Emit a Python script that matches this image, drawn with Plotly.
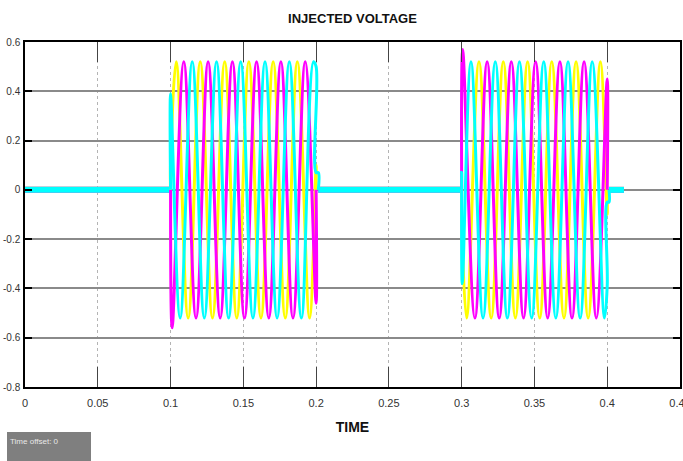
import plotly.graph_objects as go

# ---------------- data ----------------
# Zero level held between the injection windows (all three phases overlap here)
ZERO_T = [0.0, 0.1, None, 0.2015, 0.3, None, 0.4012, 0.4115]
ZERO_V = [0.0, 0.0, None, 0.0, 0.0, None, 0.0, 0.0]

# Phase A (yellow) - injection window 1 and 2 : start, extrema, end
YEL1_T = [0.1, 0.1, 0.1039, 0.1121, 0.1204, 0.1288, 0.1372, 0.1455, 0.1538, 0.1621,
          0.1705, 0.1788, 0.1871, 0.1955, 0.2, 0.2]
YEL1_V = [0.0, 0.11, 0.52, -0.52, 0.52, -0.52, 0.52, -0.52, 0.52, -0.52,
          0.52, -0.52, 0.52, -0.52, 0.10, 0.0]
YEL2_T = [0.3, 0.3, 0.3034, 0.3119, 0.3203, 0.3286, 0.3369, 0.3453, 0.3536, 0.3619,
          0.3703, 0.3786, 0.3869, 0.3953, 0.4, 0.4]
YEL2_V = [0.0, -0.11, -0.52, 0.52, -0.52, 0.52, -0.52, 0.52, -0.52, 0.52,
          -0.52, 0.52, -0.52, 0.52, -0.10, 0.0]

# Phase B (magenta)
MAG1_T = [0.1, 0.1011, 0.1091, 0.1175, 0.1258, 0.1341, 0.1425, 0.1508, 0.1591, 0.1675,
          0.1758, 0.1841, 0.1925, 0.2, 0.2]
MAG1_V = [0.0, -0.56, 0.52, -0.52, 0.52, -0.52, 0.52, -0.52, 0.52, -0.52,
          0.52, -0.52, 0.52, -0.46, 0.0]
MAG2_T = [0.3, 0.3007, 0.3091, 0.3175, 0.3258, 0.3341, 0.3425, 0.3508, 0.3591, 0.3675,
          0.3758, 0.3841, 0.3925, 0.4, 0.4]
MAG2_V = [0.0, 0.57, -0.52, 0.52, -0.52, 0.52, -0.52, 0.52, -0.52, 0.52,
          -0.52, 0.52, -0.52, 0.45, 0.0]

# Phase C (cyan)
CYA1_T = [0.1, 0.1, 0.1066, 0.1149, 0.1232, 0.1316, 0.1399, 0.1482, 0.1566, 0.1649,
          0.1732, 0.1816, 0.1899, 0.1982, 0.2, 0.2, 0.2015, 0.2015]
CYA1_V = [0.0, 0.39, -0.52, 0.52, -0.52, 0.52, -0.52, 0.52, -0.52, 0.52,
          -0.52, 0.52, -0.52, 0.52, 0.50, 0.07, 0.07, 0.0]
CYA2_T = [0.3, 0.3, 0.3004, 0.3064, 0.3147, 0.3231, 0.3314, 0.3397, 0.3481, 0.3564,
          0.3647, 0.3731, 0.3814, 0.3897, 0.3981, 0.4, 0.4, 0.4012, 0.4012]
CYA2_V = [0.0, 0.07, -0.38, 0.52, -0.52, 0.52, -0.52, 0.52, -0.52, 0.52,
          -0.52, 0.52, -0.52, 0.52, -0.52, -0.39, -0.05, -0.05, 0.0]

X_TICKS = [0, 0.05, 0.1, 0.15, 0.2, 0.25, 0.3, 0.35, 0.4, 0.45]
X_TICKTEXT = ["0", "0.05", "0.1", "0.15", "0.2", "0.25", "0.3", "0.35", "0.4", "0.45"]
Y_TICKS = [-0.8, -0.6, -0.4, -0.2, 0, 0.2, 0.4, 0.6]
Y_TICKTEXT = ["-0.8", "-0.6", "-0.4", "-0.2", "0", "0.2", "0.4", "0.6"]

TITLE = "INJECTED VOLTAGE"
X_TITLE = "TIME"
OFFSET_TEXT = "Time offset: 0"

# ---------------- figure ----------------
YELLOW, MAGENTA, CYAN = "#FFFF00", "#FF00FF", "#00FFFF"
FONT = "Liberation Sans, Arial, sans-serif"

fig = go.Figure()

def wave(t, v, color):
    fig.add_trace(go.Scatter(x=t, y=v, mode="lines",
                             line=dict(color=color, width=3, shape="spline", smoothing=1.1),
                             showlegend=False, hoverinfo="skip"))

for col in (YELLOW, MAGENTA, CYAN):
    fig.add_trace(go.Scatter(x=ZERO_T, y=ZERO_V, mode="lines",
                             line=dict(color=col, width=6), showlegend=False,
                             hoverinfo="skip"))

wave(YEL1_T, YEL1_V, YELLOW)
wave(YEL2_T, YEL2_V, YELLOW)
wave(MAG1_T, MAG1_V, MAGENTA)
wave(MAG2_T, MAG2_V, MAGENTA)
wave(CYA1_T, CYA1_V, CYAN)
wave(CYA2_T, CYA2_V, CYAN)

W, H = 683, 461
L, R, T, B = 25, 3, 42, 74
pw, ph = W - L - R, H - T - B

def px_x(p):
    return (p - L) / pw

def px_y(p):
    return (H - B - p) / ph

fig.update_layout(
    width=W, height=H,
    margin=dict(l=L, r=R, t=T, b=B, pad=0, autoexpand=False),
    paper_bgcolor="white", plot_bgcolor="white",
    font=dict(family=FONT, color="#222222", size=10),
    title=dict(text="<b>" + TITLE + "</b>", x=0.5, xref="paper", xanchor="center",
               y=1 - 18.5 / H, yref="container", yanchor="middle",
               font=dict(family=FONT, size=13, color="#111111")),
    xaxis=dict(range=[0, 0.45], tickvals=X_TICKS, ticktext=X_TICKTEXT, automargin=False,
               showgrid=True, gridcolor="#b4b4b4", griddash="dot", gridwidth=1,
               zeroline=False, showline=True, linecolor="black", linewidth=2,
               mirror="ticks", ticks="inside", ticklen=20, tickcolor="#444444",
               tickwidth=1, ticklabelstandoff=5, ticklabeloverflow="allow",
               tickfont=dict(family=FONT, size=11, color="#333333"),
               title=dict(text="<b>" + X_TITLE + "</b>", standoff=14,
                          font=dict(family=FONT, size=14, color="#111111"))),
    yaxis=dict(range=[-0.8, 0.6], tickvals=Y_TICKS, ticktext=Y_TICKTEXT, automargin=False,
               showgrid=True, gridcolor="#8a8a8a", gridwidth=1.5,
               zeroline=False, showline=True, linecolor="black", linewidth=1.5,
               mirror="ticks", ticks="inside", ticklen=7, tickcolor="black",
               tickwidth=1.5, ticklabelstandoff=1, ticklabeloverflow="allow",
               tickfont=dict(family=FONT, size=10, color="#333333")),
)

fig.add_shape(type="rect", xref="paper", yref="paper",
              x0=px_x(7), x1=px_x(91), y0=px_y(432), y1=px_y(461),
              fillcolor="#7f7f7f", line=dict(width=0), layer="above")
fig.add_annotation(text=OFFSET_TEXT, xref="paper", yref="paper",
                   x=px_x(8), y=px_y(441), xanchor="left", yanchor="middle",
                   showarrow=False, font=dict(family=FONT, size=8, color="#e8e8e8"))

fig.write_html("out.html", config={"displayModeBar": False},
               post_script="document.body.style.margin='0';")
